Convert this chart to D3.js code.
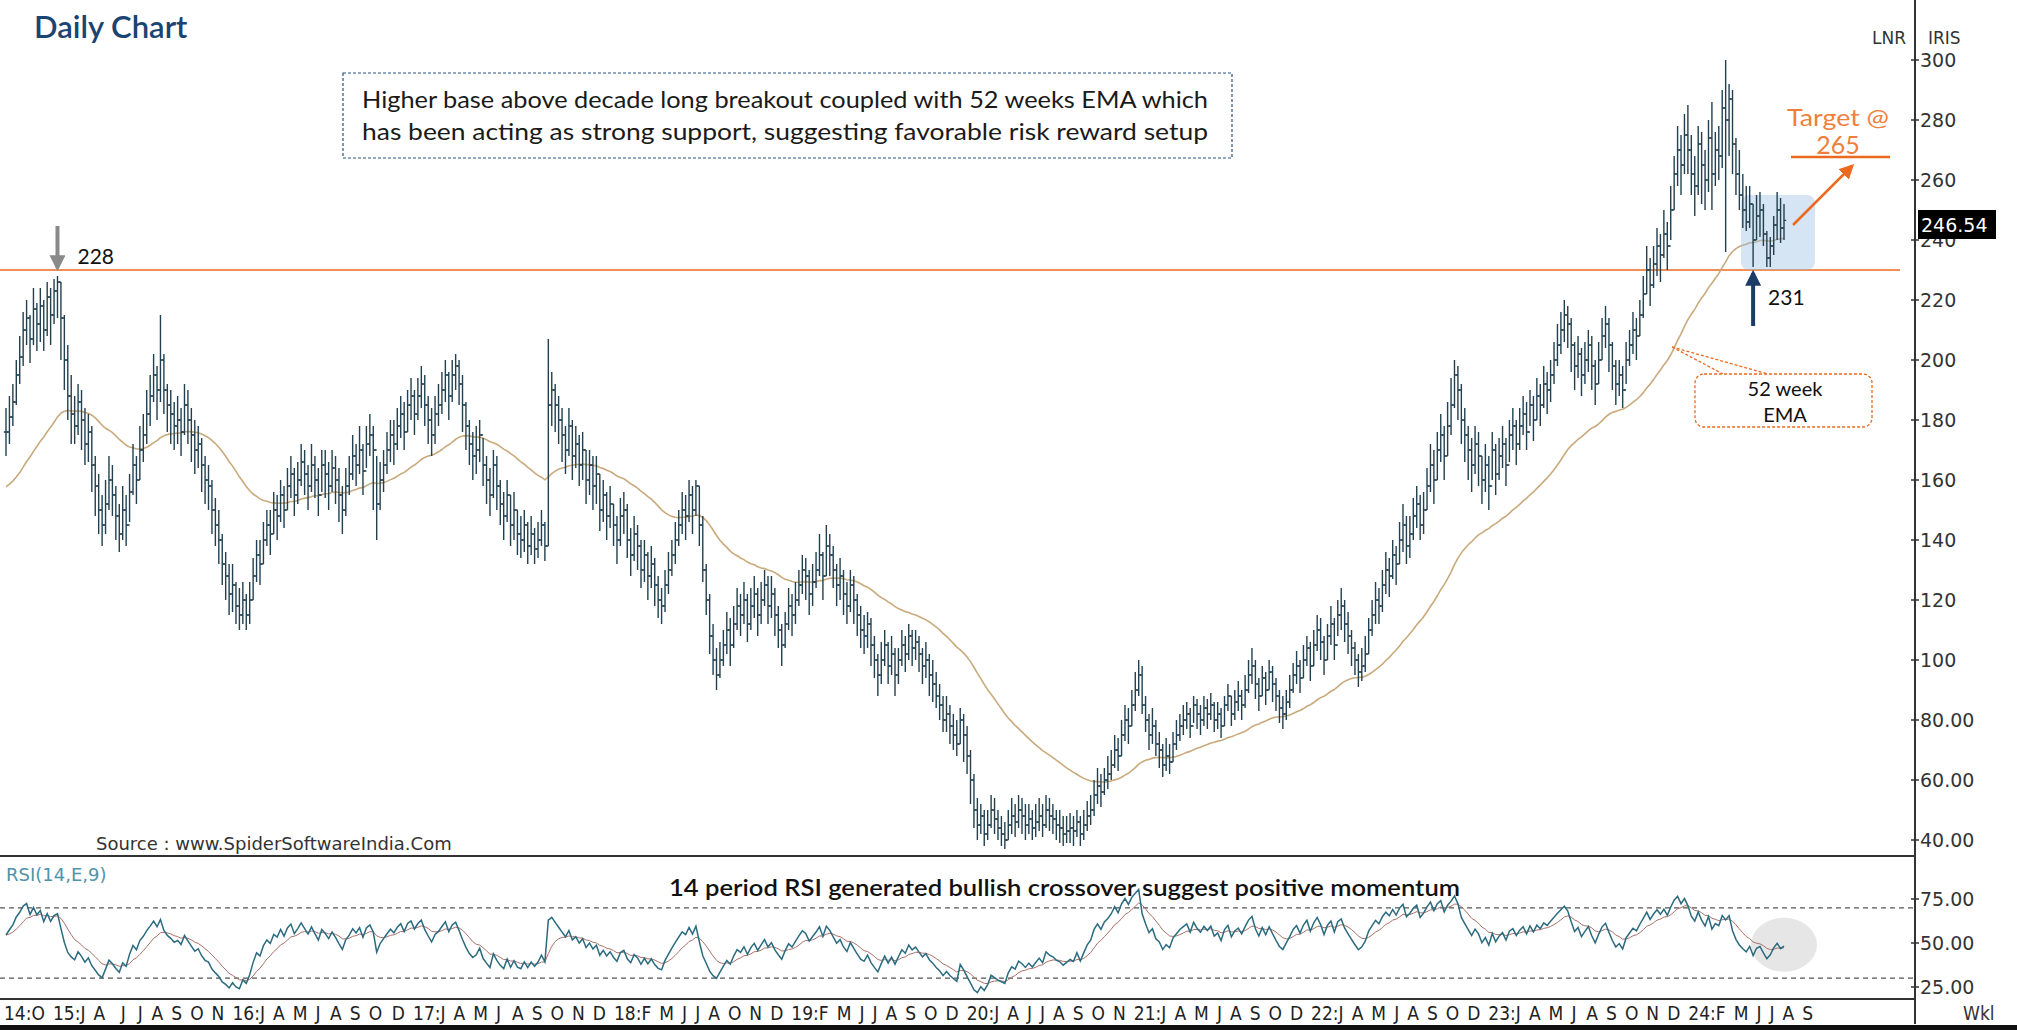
<!DOCTYPE html>
<html><head><meta charset="utf-8">
<script src="https://cdn.jsdelivr.net/npm/d3@7"></script>
<style>body{margin:0;background:#fff}svg{display:block}</style>
</head><body>
<svg id="c" width="2017" height="1030"></svg>
<script>
// ---------- DATA (weekly bars, LNR IRIS) ----------
const startDate = [2014, 9, 6]; // first weekly bar (Mon 6 Oct 2014)
const closes = [
176,181,186,195,201,210,214,207,217,212,
218,210,221,215,223,226,214,200,188,182,
178,186,180,172,176,165,158,150,145,152,
160,155,148,142,150,145,156,165,160,170,
175,182,188,195,190,200,190,185,182,178,
180,176,185,180,175,170,172,165,160,158,
150,145,140,132,128,122,125,118,115,120,
115,120,128,135,132,140,145,142,150,148,
155,150,158,162,155,160,166,162,158,165,
160,155,165,162,158,164,160,155,150,158,
162,168,165,170,163,172,175,170,152,160,
165,170,175,172,178,182,176,185,188,182,
188,192,185,180,175,182,185,190,195,188,
195,198,192,185,178,172,168,170,175,165,
160,155,165,158,152,148,155,145,150,142,
140,145,138,142,137,140,145,138,185,190,
185,180,175,170,178,168,172,165,170,160,
165,158,162,150,155,148,152,145,140,148,
150,140,135,142,138,130,135,128,132,125,
120,118,125,130,135,140,145,150,148,155,
150,158,145,130,120,108,100,95,100,105,
110,105,112,118,115,120,112,118,122,115,
120,125,118,122,115,110,105,112,118,115,
120,125,130,128,122,126,130,135,128,138,
135,130,125,128,122,118,125,120,115,110,
108,112,105,100,95,100,105,98,102,95,
100,105,102,108,104,106,102,98,100,95,
92,88,85,80,82,78,75,72,80,75,
68,60,50,45,48,42,45,50,47,44,
42,40,45,48,46,50,48,45,47,44,
46,48,45,50,48,47,45,44,42,43,
44,43,46,42,45,48,50,55,58,56,
60,62,65,70,68,75,80,78,85,90,
95,85,80,75,78,72,70,65,68,66,
72,75,78,80,82,78,85,82,80,84,
82,85,80,82,78,85,88,82,86,88,
85,90,95,98,92,88,94,90,96,92,
88,84,82,86,90,95,98,94,100,104,
98,105,110,106,100,108,112,105,115,118,
112,108,104,100,96,98,102,110,115,120,
118,125,130,128,135,132,140,145,138,142,
148,152,145,150,158,165,160,170,175,168,
178,185,195,190,180,175,170,165,172,168,
160,165,158,170,162,168,172,165,175,178,
172,178,182,176,185,180,188,185,192,190,
195,200,205,210,215,212,205,198,202,195,
200,205,198,192,200,208,212,205,198,192,
195,190,200,205,210,208,215,222,230,225,
232,238,235,242,238,250,262,270,265,275,
270,262,258,272,265,260,274,262,270,268,
284,280,287,272,262,255,250,246,252,240,
248,250,242,234,238,245,250,244,246.54];
const highs = [
184,188,192,200,208,216,220,215,224,219,
224,220,226,224,227,228,226,215,205,195,
188,192,190,184,182,178,168,162,155,160,
168,165,158,152,158,155,162,172,168,178,
182,190,195,202,198,215,202,192,190,186,
188,184,192,190,184,180,178,174,168,165,
160,154,150,142,136,132,132,126,124,126,
122,126,134,140,140,146,150,150,156,155,
160,158,164,168,164,166,172,170,165,172,
168,164,170,170,166,170,168,164,158,164,
168,175,172,178,172,178,182,178,168,166,
170,176,180,180,184,188,186,190,194,190,
194,198,195,188,184,188,192,196,200,196,
200,202,200,195,186,180,176,178,180,174,
168,164,170,168,160,156,160,155,156,150,
148,150,146,148,144,146,150,146,207,196,
192,188,184,178,184,180,178,175,176,170,
170,168,168,162,160,156,158,152,148,154,
156,152,144,148,145,140,140,136,138,134,
128,124,130,136,140,146,150,156,155,160,
158,160,158,148,132,122,112,104,106,110,
116,114,118,124,122,126,122,124,128,124,
126,130,128,128,124,118,112,116,124,122,
126,130,135,134,130,132,136,142,136,145,
142,138,132,134,130,126,130,128,122,118,
115,116,114,108,102,106,110,106,108,104,
104,110,108,112,110,110,108,104,106,102,
100,96,92,88,88,85,82,80,84,82,
78,70,62,54,52,50,50,55,54,50,
48,46,50,54,52,55,54,52,52,50,
52,54,52,55,54,52,50,50,48,48,
49,48,50,48,50,53,55,60,64,62,
64,68,70,75,74,80,85,84,90,96,
100,98,88,82,84,80,76,72,74,72,
76,80,82,85,86,84,88,87,85,88,
87,89,86,86,84,88,92,88,90,93,
90,95,100,104,100,94,98,96,100,98,
94,90,88,90,95,99,103,100,105,108,
106,110,115,114,108,112,118,114,120,124,
120,116,110,106,102,104,108,114,120,126,
124,130,136,134,140,138,146,152,148,148,
154,158,155,156,164,172,170,176,182,178,
186,194,200,198,192,184,178,174,178,176,
168,172,168,176,172,174,178,174,180,184,
180,184,188,186,190,188,194,192,198,196,
200,206,212,216,220,218,214,206,208,204,
206,210,208,200,206,214,218,214,206,200,
200,198,206,210,216,214,220,228,238,234,
238,244,242,250,246,258,268,278,275,282,
285,275,268,278,276,270,280,286,276,278,
290,300,292,290,274,270,262,258,258,252,
255,256,252,243,241,248,256,254,252];
const lows = [
168,172,178,185,192,198,205,199,205,203,
206,203,208,205,212,214,200,190,180,172,
172,175,170,165,166,156,148,142,138,142,
150,148,140,136,140,138,146,155,152,160,
166,172,178,186,180,186,182,176,172,170,
172,168,175,172,166,162,164,156,152,150,
142,138,132,125,120,115,116,112,110,112,
110,112,120,126,125,132,138,135,142,140,
146,144,150,154,148,152,158,155,150,156,
154,148,156,154,150,156,152,146,142,148,
155,160,158,162,155,164,168,150,140,150,
156,162,166,165,170,174,170,176,180,175,
180,184,178,172,168,172,178,182,186,180,
186,190,185,176,170,165,160,162,166,158,
152,148,154,150,145,140,146,138,140,135,
134,136,132,135,132,134,138,133,138,178,
176,172,166,162,168,160,164,158,160,152,
155,150,152,143,146,140,144,138,132,138,
142,134,128,133,130,124,126,120,124,118,
114,112,116,122,128,132,138,142,140,146,
142,148,138,126,115,102,95,90,94,98,
102,98,104,110,108,112,106,110,114,108,
112,118,112,114,108,104,98,104,110,108,
112,118,122,120,115,118,124,128,120,128,
128,124,118,120,115,112,116,112,108,104,
102,104,98,94,88,92,98,92,95,88,
92,98,96,100,98,100,96,92,94,88,
86,84,80,76,76,72,70,68,72,66,
62,52,44,40,42,38,40,44,42,40,
38,37,40,42,41,44,42,40,42,40,
41,43,41,44,43,42,40,39,38,39,
39,38,41,38,40,43,45,48,52,51,
55,57,60,64,63,68,73,72,78,83,
88,82,76,70,72,68,64,61,63,62,
66,70,73,75,77,74,79,77,75,78,
77,80,76,77,74,78,83,78,80,83,
80,84,89,92,87,83,88,85,90,86,
83,79,77,80,84,89,92,89,94,98,
93,98,103,100,95,100,105,100,108,110,
106,102,98,95,91,93,96,102,108,112,
112,116,122,121,127,125,132,136,132,134,
140,144,140,142,150,156,152,160,166,160,
168,175,184,180,172,166,160,156,162,158,
152,156,150,160,155,160,164,158,166,170,
165,170,175,170,178,173,180,178,184,182,
186,192,198,202,206,204,196,190,194,188,
192,196,190,185,192,200,204,196,190,185,
188,184,192,198,202,200,208,214,222,218,
224,228,226,234,230,240,250,258,255,262,
262,255,248,255,252,250,256,250,258,260,
264,236,268,262,255,250,244,243,244,231,
240,241,238,231,231,235,240,239,240];
const emaSeed = 157;            // 52-week EMA value at the left edge
const rsiSeed = [3.0, 2.5];     // avg gain / avg loss at the left edge
const priceTicks = [300,280,260,240,220,200,180,160,140,120,100,80,60,40];
const priceTickText = ["300","280","260","240","220","200","180","160","140","120","100","80.00","60.00","40.00"];
const rsiTicks = [75,50,25];
const rsiTickText = ["75.00","50.00","25.00"];
const monthLabels = [
[2014,10,"14:O"],
[2015,1,"15:J"],[2015,4,"A"],[2015,6,"J"],[2015,7,"J"],[2015,8,"A"],[2015,9,"S"],[2015,10,"O"],[2015,11,"N"],
[2016,1,"16:J"],[2016,4,"A"],[2016,5,"M"],[2016,6,"J"],[2016,8,"A"],[2016,9,"S"],[2016,10,"O"],[2016,12,"D"],
[2017,1,"17:J"],[2017,4,"A"],[2017,5,"M"],[2017,6,"J"],[2017,8,"A"],[2017,9,"S"],[2017,10,"O"],[2017,11,"N"],[2017,12,"D"],
[2018,2,"18:F"],[2018,5,"M"],[2018,6,"J"],[2018,7,"J"],[2018,8,"A"],[2018,10,"O"],[2018,11,"N"],[2018,12,"D"],
[2019,2,"19:F"],[2019,5,"M"],[2019,6,"J"],[2019,7,"J"],[2019,8,"A"],[2019,9,"S"],[2019,10,"O"],[2019,12,"D"],
[2020,1,"20:J"],[2020,4,"A"],[2020,6,"J"],[2020,7,"J"],[2020,8,"A"],[2020,9,"S"],[2020,10,"O"],[2020,11,"N"],
[2021,1,"21:J"],[2021,4,"A"],[2021,5,"M"],[2021,6,"J"],[2021,8,"A"],[2021,9,"S"],[2021,10,"O"],[2021,12,"D"],
[2022,1,"22:J"],[2022,4,"A"],[2022,5,"M"],[2022,6,"J"],[2022,8,"A"],[2022,9,"S"],[2022,10,"O"],[2022,12,"D"],
[2023,1,"23:J"],[2023,4,"A"],[2023,5,"M"],[2023,6,"J"],[2023,8,"A"],[2023,9,"S"],[2023,10,"O"],[2023,11,"N"],[2023,12,"D"],
[2024,2,"24:F"],[2024,5,"M"],[2024,6,"J"],[2024,7,"J"],[2024,8,"A"],[2024,9,"S"]];
const lastPrice = 246.54;
const breakoutLevel = 230, priorHigh = 228, recentLow = 231, target = 265;
const priorHighBar = 15, recentLowBar = 509;

// ---------- CHART ----------
const svg = d3.select("#c");
const N = closes.length;
const x = d3.scaleLinear().domain([0, N - 1]).range([6, 1784]);
const y = d3.scaleLinear().domain([40, 300]).range([840, 60]);
const yr = d3.scaleLinear().domain([25, 75]).range([987, 899]);
const AX = 1915;
const barDate = i => new Date(startDate[0], startDate[1], startDate[2] + 7 * i);
const noteFont = "Lato, 'Noto Sans', sans-serif";
const sysFont = "'DejaVu Sans', Verdana, sans-serif";
const axFont = "'Liberation Sans Narrow', 'DejaVu Sans Condensed', sans-serif";

// title
svg.append("text").attr("x", 34).attr("y", 38).text("Daily Chart")
  .attr("font-family", noteFont).attr("font-size", 31).attr("font-weight", 600).attr("fill", "#1b4472");

// breakout line
svg.append("line").attr("x1", 0).attr("x2", 1900).attr("y1", y(breakoutLevel)).attr("y2", y(breakoutLevel))
  .attr("stroke", "#ee6a1e").attr("stroke-width", 1.6);

// EMA
const ema = [];
closes.forEach((c, i) => { const k = 2 / 53; ema.push(i === 0 ? emaSeed + k * (c - emaSeed) : ema[i - 1] + k * (c - ema[i - 1])); });
svg.append("path").attr("d", d3.line().x((d, i) => x(i)).y(d => y(d))(ema))
  .attr("fill", "none").attr("stroke", "#c9aa7c").attr("stroke-width", 1.6);

// highlight box
svg.append("rect").attr("x", 1741).attr("y", 195).attr("width", 74).attr("height", 75).attr("rx", 8)
  .attr("fill", "rgba(150,190,225,0.4)");

// bars
const bars = svg.append("g").attr("stroke", "#22404f").attr("stroke-width", 1.4).attr("fill", "none");
bars.selectAll("path").data(closes).join("path").attr("d", (c, i) => {
  const xi = x(i), o = i === 0 ? c : closes[i - 1];
  return `M${xi},${y(highs[i])}V${y(lows[i])}M${xi - 2.2},${y(o)}H${xi}M${xi},${y(c)}H${xi + 2.2}`;
});

// annotation box
svg.append("rect").attr("x", 343).attr("y", 73).attr("width", 889).attr("height", 85)
  .attr("fill", "none").attr("stroke", "#2d5286").attr("stroke-width", 1.2).attr("stroke-dasharray", "3,2");
svg.append("text").attr("x", 362).attr("y", 108).attr("textLength", 846).attr("lengthAdjust", "spacingAndGlyphs")
  .attr("font-family", noteFont).attr("font-size", 23).attr("fill", "#1a1a1a")
  .text("Higher base above decade long breakout coupled with 52 weeks EMA which");
svg.append("text").attr("x", 362).attr("y", 140).attr("textLength", 846).attr("lengthAdjust", "spacingAndGlyphs")
  .attr("font-family", noteFont).attr("font-size", 23).attr("fill", "#1a1a1a")
  .text("has been acting as strong support, suggesting favorable risk reward setup");

// arrow markers
const defs = svg.append("defs");
function marker(id, color, size) {
  defs.append("marker").attr("id", id).attr("viewBox", "0 0 10 10").attr("refX", 8).attr("refY", 5)
    .attr("markerWidth", size).attr("markerHeight", size).attr("orient", "auto")
    .append("path").attr("d", "M0,0L10,5L0,10z").attr("fill", color);
}
marker("mg", "#8a8a8a", 4); marker("mb", "#1c3c68", 4); marker("mo", "#ec6a1f", 6);

// 228 arrow
const px = x(priorHighBar);
svg.append("line").attr("x1", px).attr("x2", px).attr("y1", y(priorHigh) - 50).attr("y2", y(priorHigh) - 8)
  .attr("stroke", "#8a8a8a").attr("stroke-width", 4).attr("marker-end", "url(#mg)");
svg.append("text").attr("x", px + 20).attr("y", y(priorHigh) - 12).text(priorHigh)
  .attr("font-family", noteFont).attr("font-size", 21).attr("fill", "#111");

// 231 arrow
const lx = x(recentLowBar);
svg.append("line").attr("x1", lx).attr("x2", lx).attr("y1", 326).attr("y2", y(recentLow) + 6)
  .attr("stroke", "#1c3c68").attr("stroke-width", 4).attr("marker-end", "url(#mb)");
svg.append("text").attr("x", lx + 15).attr("y", 305).text(recentLow)
  .attr("font-family", noteFont).attr("font-size", 21).attr("fill", "#111");

// target
svg.append("line").attr("x1", 1793).attr("y1", 225).attr("x2", 1852).attr("y2", 166)
  .attr("stroke", "#ec6a1f").attr("stroke-width", 2.5).attr("marker-end", "url(#mo)");
svg.append("line").attr("x1", 1791).attr("x2", 1890).attr("y1", 157).attr("y2", 157)
  .attr("stroke", "#ec6a1f").attr("stroke-width", 2.5);
svg.append("text").attr("x", 1787).attr("y", 126).attr("textLength", 102).attr("lengthAdjust", "spacingAndGlyphs").text("Target @")
  .attr("font-family", noteFont).attr("font-size", 24).attr("fill", "#ef7f3c");
svg.append("text").attr("x", 1838).attr("y", 154).attr("text-anchor", "middle").text(target)
  .attr("font-family", noteFont).attr("font-size", 25).attr("fill", "#ef7f3c");

// EMA callout
const tip = [1672, 347];
[[1723, 374], [1768, 374]].forEach(p => svg.append("line").attr("x1", tip[0]).attr("y1", tip[1]).attr("x2", p[0]).attr("y2", p[1])
  .attr("stroke", "#ec6a1f").attr("stroke-width", 1.3).attr("stroke-dasharray", "3,2"));
svg.append("rect").attr("x", 1695).attr("y", 374).attr("width", 177).attr("height", 53).attr("rx", 9)
  .attr("fill", "#fff").attr("stroke", "#ec6a1f").attr("stroke-width", 1.3).attr("stroke-dasharray", "3,2");
svg.append("text").attr("x", 1785).attr("y", 396).attr("text-anchor", "middle").text("52 week")
  .attr("font-family", noteFont).attr("font-size", 20).attr("fill", "#111");
svg.append("text").attr("x", 1785).attr("y", 422).attr("text-anchor", "middle").text("EMA")
  .attr("font-family", noteFont).attr("font-size", 20).attr("fill", "#111");

// source
svg.append("text").attr("x", 96).attr("y", 850).text("Source : www.SpiderSoftwareIndia.Com")
  .attr("font-family", sysFont).attr("font-size", 18).attr("fill", "#333");

// panel lines
svg.append("line").attr("x1", 0).attr("x2", AX).attr("y1", 856).attr("y2", 856).attr("stroke", "#333").attr("stroke-width", 2);
svg.append("line").attr("x1", 0).attr("x2", AX).attr("y1", 999).attr("y2", 999).attr("stroke", "#333").attr("stroke-width", 2);
svg.append("line").attr("x1", AX).attr("x2", AX).attr("y1", 0).attr("y2", 1024).attr("stroke", "#333").attr("stroke-width", 2);
svg.append("rect").attr("x", 0).attr("y", 1025).attr("width", 2017).attr("height", 5).attr("fill", "#111");

// price axis
const pt = svg.append("g").attr("font-family", sysFont).attr("font-size", 19).attr("fill", "#333");
priceTicks.forEach((v, k) => {
  pt.append("line").attr("x1", AX - 4).attr("x2", AX + 4).attr("y1", y(v)).attr("y2", y(v)).attr("stroke", "#333").attr("stroke-width", 1.5);
  pt.append("text").attr("x", AX + 5).attr("y", y(v)).attr("dy", "0.36em").text(priceTickText[k]);
});
svg.append("text").attr("x", 1872).attr("y", 44).text("LNR").attr("font-family", sysFont).attr("font-size", 17).attr("fill", "#333");
svg.append("text").attr("x", 1928).attr("y", 44).text("IRIS").attr("font-family", sysFont).attr("font-size", 17).attr("fill", "#333");
svg.append("rect").attr("x", 1918).attr("y", 210).attr("width", 78).attr("height", 29).attr("fill", "#000");
svg.append("text").attr("x", 1921).attr("y", 225).attr("dy", "0.36em").text(lastPrice.toFixed(2))
  .attr("font-family", sysFont).attr("font-size", 19).attr("fill", "#fff");

// ---------- RSI ----------
const rsi = []; let ag = rsiSeed[0], al = rsiSeed[1];
closes.forEach((c, i) => {
  if (i > 0) { const ch = c - closes[i - 1]; ag = (ag * 13 + Math.max(ch, 0)) / 14; al = (al * 13 + Math.max(-ch, 0)) / 14; }
  rsi.push(100 - 100 / (1 + ag / al));
});
const sig = []; rsi.forEach((r, i) => sig.push(i === 0 ? r : sig[i - 1] + 0.2 * (r - sig[i - 1])));

svg.append("ellipse").attr("cx", x(N - 1)).attr("cy", yr(49)).attr("rx", 33).attr("ry", 27).attr("fill", "rgba(200,200,200,0.45)");
[70, 30].forEach(v => svg.append("line").attr("x1", 0).attr("x2", AX).attr("y1", yr(v)).attr("y2", yr(v))
  .attr("stroke", "#555").attr("stroke-width", 1.2).attr("stroke-dasharray", "5,4"));
svg.append("path").attr("d", d3.line().x((d, i) => x(i)).y(d => yr(d))(sig)).attr("fill", "none").attr("stroke", "#a9706a").attr("stroke-width", 1);
svg.append("path").attr("d", d3.line().x((d, i) => x(i)).y(d => yr(d))(rsi)).attr("fill", "none").attr("stroke", "#2b6b7f").attr("stroke-width", 1.5);

const rt = svg.append("g").attr("font-family", sysFont).attr("font-size", 19).attr("fill", "#333");
rsiTicks.forEach((v, k) => {
  rt.append("line").attr("x1", AX - 4).attr("x2", AX + 4).attr("y1", yr(v)).attr("y2", yr(v)).attr("stroke", "#333").attr("stroke-width", 1.5);
  rt.append("text").attr("x", AX + 5).attr("y", yr(v)).attr("dy", "0.36em").text(rsiTickText[k]);
});
svg.append("text").attr("x", 6).attr("y", 881).text("RSI(14,E,9)").attr("font-family", sysFont).attr("font-size", 18).attr("fill", "#4f93aa");
svg.append("text").attr("x", 669).attr("y", 896).attr("textLength", 791).attr("lengthAdjust", "spacingAndGlyphs")
  .text("14 period RSI generated bullish crossover suggest positive momentum")
  .attr("font-family", noteFont).attr("font-size", 22).attr("font-weight", 600).attr("fill", "#111");

// ---------- X AXIS ----------
const xl = svg.append("g").attr("font-family", axFont).attr("font-size", 19).attr("fill", "#222");
let prevEnd = -99;
monthLabels.forEach(([yy, mm, t]) => {
  const ms = new Date(yy, mm - 1, 1);
  let i = 0; while (i < N - 1 && barDate(i) < ms) i++;
  const tx = xl.append("text").attr("y", 1020).text(t);
  const pos = Math.max(x(i) - 2, prevEnd + 8);
  tx.attr("x", pos);
  prevEnd = pos + tx.node().getComputedTextLength();
});
svg.append("text").attr("x", 1963).attr("y", 1020).text("Wkl").attr("font-family", axFont).attr("font-size", 19).attr("fill", "#333");
</script>
</body></html>
